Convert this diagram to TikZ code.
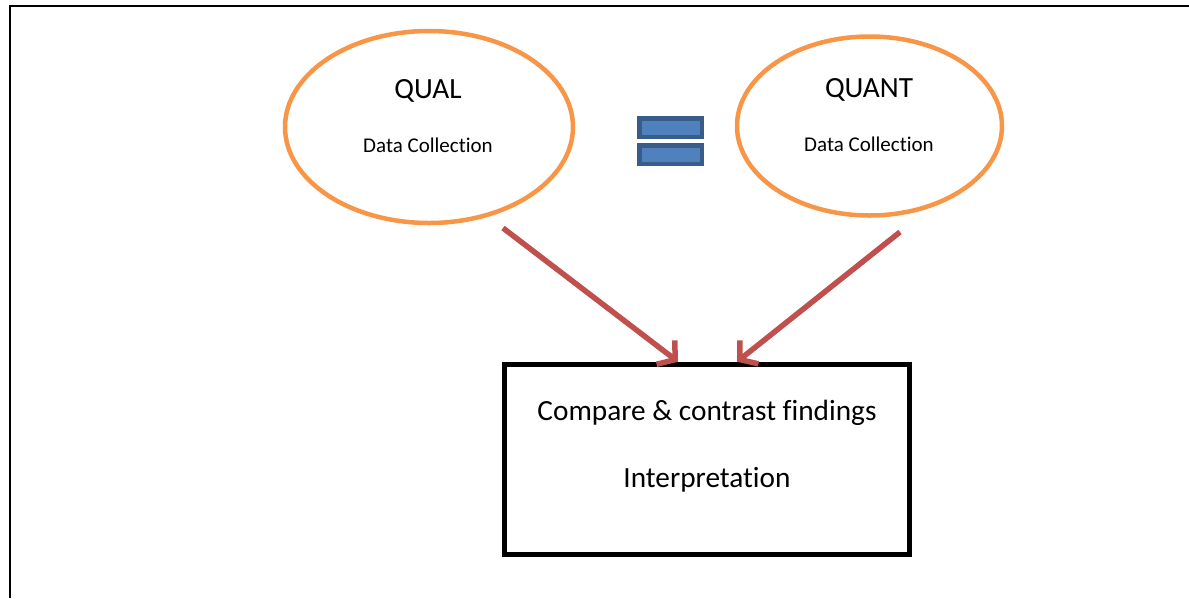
\documentclass[tikz,border=0pt]{standalone}
\usepackage{fontspec}
\setmainfont{Carlito}[Ligatures={NoCommon,NoRare}]
\usepackage{xcolor}
\usetikzlibrary{positioning}
\usetikzlibrary{shapes.geometric}
\usetikzlibrary{arrows.meta}

\definecolor{ringorange}{HTML}{F79646}
\definecolor{arrowred}{HTML}{C0504D}
\definecolor{barblue}{HTML}{4F81BD}
\definecolor{bardark}{HTML}{385D8A}

% break the ti ligature of Carlito
\newcommand{\nolig}{\kern0pt{}}

\tikzset{
  ring/.style={ellipse, draw=ringorange, line width=4.5pt, inner sep=0pt},
  bigtext/.style={anchor=base, font=\fontsize{29.3}{34}\selectfont},
  smalltext/.style={anchor=base, font=\fontsize{21}{25}\selectfont},
  eqbar/.style={rectangle, draw=bardark, fill=barblue, line width=4.5pt,
    minimum width=62.5pt, minimum height=18.5pt, inner sep=0pt},
  flow/.style={draw=arrowred, line width=5.5pt,
    -{Straight Barb[length=12pt,width=30pt]}},
  resultbox/.style={rectangle, draw=black, line width=5.5pt,
    minimum width=405pt, minimum height=190pt, inner sep=0pt}
}

\begin{document}
\begin{tikzpicture}[x=1pt,y=-1pt]
\useasboundingbox (0,0) rectangle (1189,598);

% Draw frame
\draw[line width=2pt] (10,598) -- (10,6) -- (1189,6);

% Draw the two data collection ellipses
\node[ring, minimum width=288pt, minimum height=192pt] (qual) at (429,127) {};
\node[bigtext] (qualtitle) at (428,98) {QUAL};
\node[smalltext] (qualsub) at (428,152) {Data Collect\nolig ion};

\node[ring, minimum width=265pt, minimum height=179pt] (quant) at (869.5,126) {};
\node[bigtext] (quanttitle) at (869,97) {QUANT};
\node[smalltext] (quantsub) at (869,151) {Data Collect\nolig ion};

% Draw equals sign
\node[eqbar] (eqtop) at (670.5,127.5) {};
\node[eqbar] (eqbottom) at (670.5,154.5) {};

% Draw result box
\node[resultbox] (result) at (707,459.5) {};
\node[bigtext] (compare) at (707,420) {Compare \& contrast findings};
\node[bigtext] (interp) at (707,487) {Interpretat\nolig ion};

% Draw arrows
\coordinate (qualfoot) at (503,228);
\coordinate (quantfoot) at (900,232);
\draw[flow] (qualfoot) -- ([xshift=-29pt]result.north);
\draw[flow] (quantfoot) -- ([xshift=30pt]result.north);

\end{tikzpicture}
\end{document}
